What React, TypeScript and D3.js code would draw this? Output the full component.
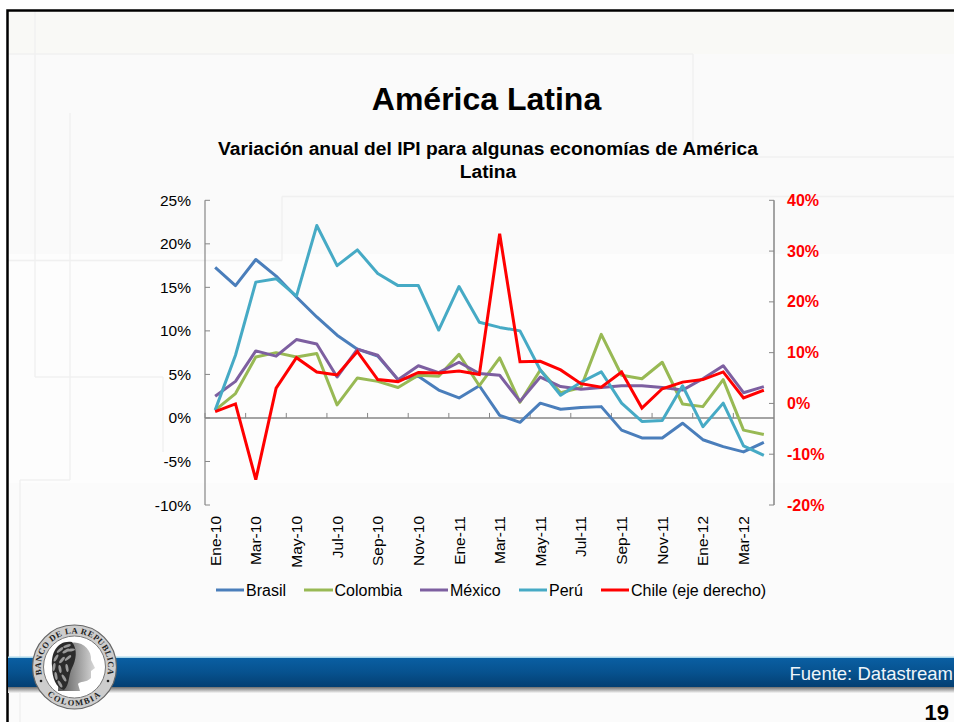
import React from "react";
import * as d3 from "d3";

const months = ["Ene-10","Feb-10","Mar-10","Abr-10","May-10","Jun-10","Jul-10","Ago-10","Sep-10","Oct-10","Nov-10","Dic-10","Ene-11","Feb-11","Mar-11","Abr-11","May-11","Jun-11","Jul-11","Ago-11","Sep-11","Oct-11","Nov-11","Dic-11","Ene-12","Feb-12","Mar-12","Abr-12"];
const brasil = [17.3,15.2,18.2,16.3,13.9,11.6,9.5,7.9,7.1,4.4,4.8,3.2,2.3,3.7,0.3,-0.5,1.7,1.0,1.2,1.3,-1.4,-2.3,-2.3,-0.6,-2.5,-3.3,-3.9,-2.8];
const colombia = [0.9,2.8,7.0,7.5,7.0,7.4,1.5,4.6,4.2,3.5,4.9,4.8,7.3,3.7,6.9,1.8,5.5,2.9,3.5,9.6,4.9,4.5,6.4,1.6,1.3,4.4,-1.4,-1.9];
const mexico = [2.5,4.2,7.7,7.1,9.0,8.5,4.7,7.9,7.2,4.4,6.0,5.2,6.4,5.1,4.9,1.9,4.7,3.6,3.3,3.5,3.7,3.7,3.5,3.2,4.5,6.0,2.9,3.6];
const peru = [0.9,7.2,15.6,16.0,14.0,22.1,17.5,19.3,16.6,15.2,15.2,10.1,15.1,11.0,10.4,10.0,5.5,2.6,4.1,5.3,1.7,-0.4,-0.3,3.7,-1.0,1.7,-3.2,-4.3];
const chile = [-1.6,-0.1,-15,3.0,9.0,6.2,5.6,10.2,4.7,4.3,6.1,6.0,6.4,5.7,33.4,8.2,8.3,6.6,3.9,3.2,6.2,-0.9,2.9,4.2,4.7,6.2,1.1,2.6];
const leftTicks = [-10,-5,0,5,10,15,20,25];
const rightTicks = [-20,-10,0,10,20,30,40];
const leftSeries = [
  { name: "Brasil", values: brasil, color: "#4a7ebb" },
  { name: "Colombia", values: colombia, color: "#98b954" },
  { name: "México", values: mexico, color: "#7d5fa0" },
  { name: "Perú", values: peru, color: "#46aac5" },
];
const legendItems = [
  { name: "Brasil", color: "#4a7ebb", x1: 216, x2: 244, tx: 246 },
  { name: "Colombia", color: "#98b954", x1: 304, x2: 333, tx: 334.5 },
  { name: "México", color: "#7d5fa0", x1: 420, x2: 448, tx: 450 },
  { name: "Perú", color: "#46aac5", x1: 519, x2: 547, tx: 549 },
  { name: "Chile (eje derecho)", color: "#ff0000", x1: 601, x2: 629, tx: 631 },
];
const faint: [number, number, number, number][] = [
  [35, 11, 35, 377], [8, 54, 693, 54], [693, 54, 693, 157], [693, 157, 954, 157],
  [282, 196.5, 954, 196.5], [282, 196.5, 282, 260.5], [8, 260.5, 282, 260.5],
  [35, 377, 163, 377], [163, 377, 163, 452], [70, 113, 70, 480], [20, 480, 70, 480], [20, 480, 20, 722],
];
const leaves: [number, number, number][] = [
  [60,650,-40],[67,646,-20],[56,658,-60],[54,667,-80],[56,676,80],[60,684,60],[66,651,-30],[62,660,-50],[60,669,80],[64,678,60],[71,650,-10],[68,658,-40],[67,668,80],
];

export default function App() {
  const x = d3.scaleBand<number>().domain(d3.range(months.length)).range([205, 774]);
  const cx = (i: number) => x(i)! + x.bandwidth() / 2;
  const yL = d3.scaleLinear().domain([-10, 25]).range([505, 200.3]);
  const yR = d3.scaleLinear().domain([-20, 40]).range([505, 200.3]);
  const lineL = d3.line<number>().x((_, i) => cx(i)).y((d) => yL(d));
  const lineR = d3.line<number>().x((_, i) => cx(i)).y((d) => yR(d));
  const sans = "'Liberation Sans', Arial, sans-serif";
  const axis = "#868686";
  return (
    <svg width={954} height={722} style={{ position: "absolute", left: 0, top: 0, fontFamily: sans }}>
      <defs>
        <linearGradient id="band" x1="0" x2="0" y1="0" y2="1">
          <stop offset="0" stopColor="#0a5fa3" />
          <stop offset="0.5" stopColor="#07528f" />
          <stop offset="1" stopColor="#043f72" />
        </linearGradient>
        <linearGradient id="shadow" x1="0" x2="0" y1="0" y2="1">
          <stop offset="0" stopColor="#6f6f6f" />
          <stop offset="1" stopColor="#f6f6f6" />
        </linearGradient>
        <linearGradient id="face" x1="0" x2="1" y1="0" y2="0">
          <stop offset="0" stopColor="#555" />
          <stop offset="1" stopColor="#d8d8d8" />
        </linearGradient>
      </defs>
      <rect width={954} height={722} fill="#ffffff" />
      <rect x={7} y={10} width={947} height={712} fill="#fdfdfd" />
      <rect x={8} y={11} width={946} height={243} fill="#fafafa" />
      <rect x={8} y={11} width={946} height={43} fill="#f9f9f6" />
      <rect x={8} y={483} width={946} height={239} fill="#fbfbfb" />
      {faint.map((f, i) => (
        <line key={i} x1={f[0]} y1={f[1]} x2={f[2]} y2={f[3]} stroke="#f0f0f0" strokeWidth={1.5} />
      ))}
      <path d="M7.5 722V10.5H954" fill="none" stroke="#000" strokeWidth={2.5} />

      <rect x={8} y={687} width={946} height={6} fill="url(#shadow)" />
      <rect x={8} y={657.5} width={946} height={29.5} fill="url(#band)" />
      <rect x={8} y={656.5} width={946} height={1.5} fill="#a9d6ea" />

      <text x={486.5} y={110} textAnchor="middle" fontSize={32} fontWeight="bold" fill="#000">América Latina</text>
      <text x={488} y={155} textAnchor="middle" fontSize={19.2} fontWeight="bold" fill="#000">Variación anual del IPI para algunas economías de América</text>
      <text x={488} y={178} textAnchor="middle" fontSize={19.2} fontWeight="bold" fill="#000">Latina</text>

      <line x1={205} x2={205} y1={200.3} y2={505} stroke={axis} strokeWidth={1.2} />
      {leftTicks.map((t) => (
        <g key={t}>
          <line x1={205} x2={210} y1={yL(t)} y2={yL(t)} stroke={axis} />
          <text x={191} y={yL(t) + 5.5} textAnchor="end" fontSize={15.5} fill="#000">{t}%</text>
        </g>
      ))}
      <line x1={774} x2={774} y1={200.3} y2={505} stroke={axis} strokeWidth={1.5} />
      {rightTicks.map((t) => (
        <g key={t}>
          <line x1={769} x2={774} y1={yR(t)} y2={yR(t)} stroke={axis} />
          <text x={787} y={yR(t) + 5.5} fontSize={16} fontWeight="bold" fill="#ff0000">{t}%</text>
        </g>
      ))}
      <line x1={205} x2={774} y1={yL(0)} y2={yL(0)} stroke={axis} strokeWidth={1.5} />
      {months.map((_, i) => (i % 2 === 0 ? (
        <line key={i} x1={x(i)!} x2={x(i)!} y1={yL(0) - 5} y2={yL(0)} stroke={axis} />
      ) : null))}
      {months.map((m, i) => (i % 2 === 0 ? (
        <text key={m} transform={`translate(${cx(i) + 5.5},516) rotate(-90)`} textAnchor="end" fontSize={15.5} fill="#000">{m}</text>
      ) : null))}

      {leftSeries.map((s) => (
        <path key={s.name} d={lineL(s.values)!} fill="none" stroke={s.color} strokeWidth={3} strokeLinejoin="round" />
      ))}
      <path d={lineR(chile)!} fill="none" stroke="#ff0000" strokeWidth={3} strokeLinejoin="miter" />

      {legendItems.map((l) => (
        <g key={l.name}>
          <line x1={l.x1} x2={l.x2} y1={590} y2={590} stroke={l.color} strokeWidth={3} />
          <text x={l.tx} y={596} fontSize={16} fill="#000">{l.name}</text>
        </g>
      ))}

      <text x={953} y={680} textAnchor="end" fontSize={18.5} fill="#eef5fa">Fuente: Datastream</text>
      <text x={949} y={720} textAnchor="end" fontSize={22} fontWeight="bold" fill="#000">19</text>

      <g>
        <circle cx={74.5} cy={667} r={42} fill="#cdcdcd" stroke="#666" strokeWidth={1.2} />
        <circle cx={74.5} cy={667} r={31} fill="#ffffff" stroke="#777" strokeWidth={1} />
        <path d="M70 643 C82 640 92 650 91 660 L95 668 L91 671 L91 678 C86 683 80 681 78 684 L80 691 L58 691 L60 650 Z" fill="url(#face)" />
        <path d="M72 642 C58 640 51 652 52 666 C52 678 56 688 64 690 C70 684 68 676 72 668 C76 660 78 650 72 642 Z" fill="#2b2b2b" />
        {leaves.map((l, i) => (
          <ellipse key={i} cx={l[0]} cy={l[1]} rx={4} ry={1.4} transform={`rotate(${l[2]} ${l[0]} ${l[1]})`} fill="#9a9a9a" />
        ))}
        <path id="arcTop" d="M45.5 684 A33.6 33.6 0 1 1 103.5 684" fill="none" />
        <path id="arcBot" d="M40 685 A39 39 0 0 0 109 685" fill="none" />
        <text fontSize={8.5} fontWeight="bold" fontFamily="'Liberation Serif', serif" fill="#222" letterSpacing={0.5}>
          <textPath href="#arcTop" startOffset="50%" textAnchor="middle">BANCO DE LA REPUBLICA</textPath>
        </text>
        <text fontSize={8.5} fontWeight="bold" fontFamily="'Liberation Serif', serif" fill="#222" letterSpacing={1.5}>
          <textPath href="#arcBot" startOffset="50%" textAnchor="middle">COLOMBIA</textPath>
        </text>
        <circle cx={41} cy={681} r={1.3} fill="#222" />
        <circle cx={108} cy={681} r={1.3} fill="#222" />
      </g>
    </svg>
  );
}
